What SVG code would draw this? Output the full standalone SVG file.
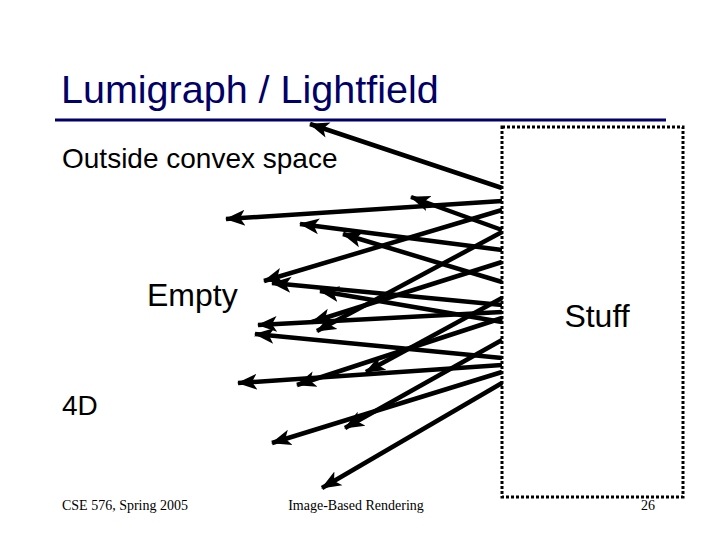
<svg xmlns="http://www.w3.org/2000/svg" width="720" height="540" viewBox="0 0 720 540">
<style>
.title{font-family:"Liberation Sans",Arial,sans-serif;font-size:39.5px;fill:#000066}
.body{font-family:"Liberation Sans",Arial,sans-serif;font-size:28px;fill:#000}
.big{font-family:"Liberation Sans",Arial,sans-serif;font-size:32px;fill:#000}
.foot{font-family:"Liberation Serif","Times New Roman",serif;font-size:14px;fill:#000}
.ray{stroke:#000;stroke-width:4.5;fill:none;marker-end:url(#ah)}
</style>
<defs>
<marker id="ah" markerUnits="userSpaceOnUse" markerWidth="22" markerHeight="18" refX="19" refY="9" orient="auto">
<path d="M20,9 L0,1 L5,9 L0,17 Z" fill="#000"/>
</marker>
</defs>
<rect width="720" height="540" fill="#fff"/>
<g id="title">
<text class="title" x="61" y="103">Lumigraph / Lightfield</text>
<line x1="55" y1="120" x2="666" y2="120" stroke="#000066" stroke-width="3"/>
</g>
<g id="labels">
<text class="body" x="62" y="168">Outside convex space</text>
<text class="big" x="147" y="306">Empty</text>
<text class="body" x="62" y="415">4D</text>
</g>
<g id="stuff">
<rect x="502" y="127" width="181" height="370" fill="none" stroke="#000" stroke-width="3" stroke-dasharray="3 2"/>
<text class="big" x="597" y="327" text-anchor="middle">Stuff</text>
</g>
<g id="rays">
<line class="ray" x1="502" y1="188" x2="310" y2="124"/>
<line class="ray" x1="502" y1="201" x2="226" y2="219"/>
<line class="ray" x1="502" y1="230" x2="411" y2="197"/>
<line class="ray" x1="502" y1="250" x2="300" y2="224"/>
<line class="ray" x1="502" y1="282" x2="343" y2="234"/>
<line class="ray" x1="502" y1="210" x2="264" y2="281"/>
<line class="ray" x1="502" y1="305" x2="272" y2="283"/>
<line class="ray" x1="502" y1="322" x2="320" y2="291"/>
<line class="ray" x1="502" y1="312" x2="258" y2="325"/>
<line class="ray" x1="502" y1="358" x2="255" y2="334"/>
<line class="ray" x1="502" y1="232" x2="317" y2="331"/>
<line class="ray" x1="502" y1="262" x2="312" y2="322"/>
<line class="ray" x1="502" y1="365" x2="238" y2="383"/>
<line class="ray" x1="502" y1="318" x2="297" y2="385"/>
<line class="ray" x1="502" y1="298" x2="366" y2="372"/>
<line class="ray" x1="502" y1="372" x2="272" y2="443"/>
<line class="ray" x1="502" y1="340" x2="345" y2="428"/>
<line class="ray" x1="502" y1="383" x2="322" y2="488"/>
</g>
<g id="footer">
<text class="foot" x="62" y="510">CSE 576, Spring 2005</text>
<text class="foot" x="356" y="510" text-anchor="middle">Image-Based Rendering</text>
<text class="foot" x="648" y="510" text-anchor="middle">26</text>
</g>
</svg>
